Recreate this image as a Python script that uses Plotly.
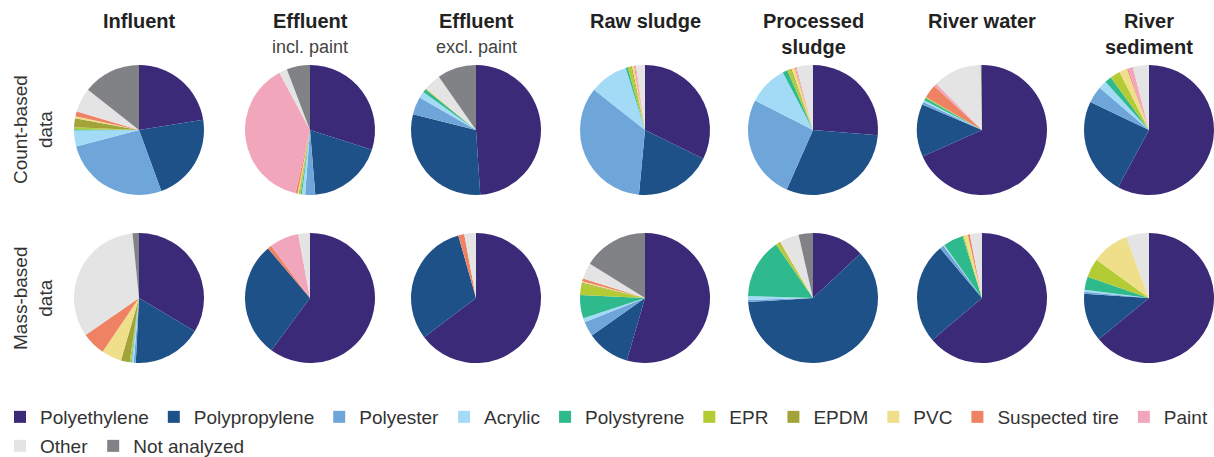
import plotly.graph_objects as go

materials = ["Polyethylene", "Polypropylene", "Polyester", "Acrylic", "Polystyrene",
             "EPR", "EPDM", "PVC", "Suspected tire", "Paint", "Other", "Not analyzed"]
colors = ["#3a2a78", "#1f5189", "#6fa6d9", "#a3daf5", "#2fba8e", "#b3cc36",
          "#a2a43a", "#efdf8a", "#ee8262", "#f2a6bb", "#e4e4e4", "#808285"]

columns = ["Influent", "Effluent", "Effluent", "Raw sludge", "Processed<br>sludge",
           "River water", "River<br>sediment"]
subtitles = ["", "incl. paint", "excl. paint", "", "", "", ""]
row_labels = ["Count-based<br>data", "Mass-based<br>data"]

# values ordered as materials
count_influent = [22.5, 22.0, 26.5, 4.0, 0.3, 0.5, 2.2, 0.5, 1.2, 0.05, 6.0, 14.4]
count_eff_incl = [29.9, 18.8, 2.5, 0.8, 0.3, 0.3, 0.2, 0.3, 0.5, 38.6, 2.0, 5.8]
count_eff_excl = [49.0, 30.0, 4.4, 1.6, 0.9, 0.1, 0.1, 0.1, 0.0, 0.0, 4.2, 9.7]
count_raw_sludge = [32.4, 19.3, 34.3, 9.6, 0.5, 0.8, 0.3, 0.5, 0.2, 0.3, 2.2, 0.0]
count_proc_sludge = [26.0, 30.0, 25.6, 9.7, 1.2, 0.8, 0.3, 0.8, 0.2, 0.3, 4.0, 0.0]
count_river_water = [67.9, 13.0, 0.7, 0.5, 0.6, 0.3, 0.0, 0.0, 3.3, 0.8, 12.0, 0.3]
count_river_sed = [57.9, 24.2, 4.2, 2.0, 1.7, 2.5, 0.0, 2.0, 0.3, 1.2, 4.0, 0.0]

mass_influent = [33.7, 17.3, 0.5, 0.5, 0.2, 0.3, 2.2, 5.0, 5.9, 0.0, 33.2, 1.6]
mass_eff_incl = [60.2, 28.7, 0.0, 0.0, 0.0, 0.0, 0.0, 0.0, 1.0, 7.3, 2.9, 0.0]
mass_eff_excl = [64.7, 30.9, 0.0, 0.0, 0.0, 0.0, 0.0, 0.0, 1.5, 0.0, 2.9, 0.0]
mass_raw_sludge = [54.4, 10.7, 3.7, 1.0, 5.8, 2.8, 0.3, 0.3, 0.7, 0.0, 4.0, 16.1]
mass_proc_sludge = [13.1, 61.5, 0.5, 1.0, 15.0, 0.8, 0.3, 0.3, 0.0, 0.0, 4.7, 3.6]
mass_river_water = [63.7, 25.0, 1.0, 0.3, 5.0, 0.3, 0.0, 1.0, 0.5, 0.0, 3.0, 0.0]
mass_river_sed = [64.1, 12.0, 0.5, 0.5, 3.3, 4.7, 0.0, 9.3, 0.0, 0.0, 5.7, 0.0]

count_rows = [count_influent, count_eff_incl, count_eff_excl, count_raw_sludge,
              count_proc_sludge, count_river_water, count_river_sed]
mass_rows = [mass_influent, mass_eff_incl, mass_eff_excl, mass_raw_sludge,
             mass_proc_sludge, mass_river_water, mass_river_sed]

W, H = 1214, 457
col_centers = [139, 310, 476, 645, 813, 982, 1149]
row_centers = [130, 298]
R = 65
FONT = "Liberation Sans"


def clamp(v):
    return max(0.0, min(1.0, v))


fig = go.Figure()
for r, data in enumerate([count_rows, mass_rows]):
    for c, vals in enumerate(data):
        cx, cy = col_centers[c], row_centers[r]
        fig.add_trace(go.Pie(
            labels=materials, values=vals, sort=False, direction="clockwise",
            rotation=0, textinfo="none", hole=0,
            marker=dict(colors=colors, line=dict(width=0)),
            domain=dict(x=[clamp((cx - R) / W), clamp((cx + R) / W)],
                        y=[clamp((H - cy - R) / H), clamp((H - cy + R) / H)]),
            showlegend=False,
        ))

# legend-only traces (first row: 10 items, second row: 2 items)
for leg, idx in (("legend", range(0, 10)), ("legend2", range(10, 12))):
    fig.add_trace(go.Pie(
        labels=[materials[i] for i in idx], values=[1] * len(idx), sort=False,
        marker=dict(colors=[colors[i] for i in idx], line=dict(width=0)),
        textinfo="none", hoverinfo="skip",
        domain=dict(x=[0, 0.00005], y=[0, 0.00005]),
        showlegend=True, legend=leg,
    ))

ann = []
for c, t in enumerate(columns):
    x = col_centers[c] / W
    ann.append(dict(x=x, y=1 - 8 / H, xref="paper", yref="paper", text="<b>" + t + "</b>",
                    showarrow=False, xanchor="center", yanchor="top",
                    font=dict(size=20, color="#222222", family=FONT)))
    if subtitles[c]:
        ann.append(dict(x=x, y=1 - 35 / H, xref="paper", yref="paper", text=subtitles[c],
                        showarrow=False, xanchor="center", yanchor="top",
                        font=dict(size=18, color="#444444", family=FONT)))
for r, t in enumerate(row_labels):
    ann.append(dict(x=33 / W, y=1 - row_centers[r] / H, xref="paper", yref="paper", text=t,
                    showarrow=False, xanchor="center", yanchor="middle", textangle=-90,
                    font=dict(size=19, color="#333333", family=FONT)))

legend_common = dict(orientation="h", xanchor="left", yanchor="middle",
                     font=dict(size=19, color="#333333", family=FONT),
                     traceorder="normal", itemclick=False, itemdoubleclick=False,
                     bgcolor="rgba(0,0,0,0)")

fig.update_layout(
    width=W, height=H, margin=dict(l=0, r=0, t=0, b=0, autoexpand=False),
    paper_bgcolor="white", plot_bgcolor="white",
    annotations=ann,
    legend=dict(x=0, y=(H - 417) / H, **legend_common),
    legend2=dict(x=0, y=(H - 446) / H, **legend_common),
    font=dict(family=FONT),
)
fig.write_html("out.html")
